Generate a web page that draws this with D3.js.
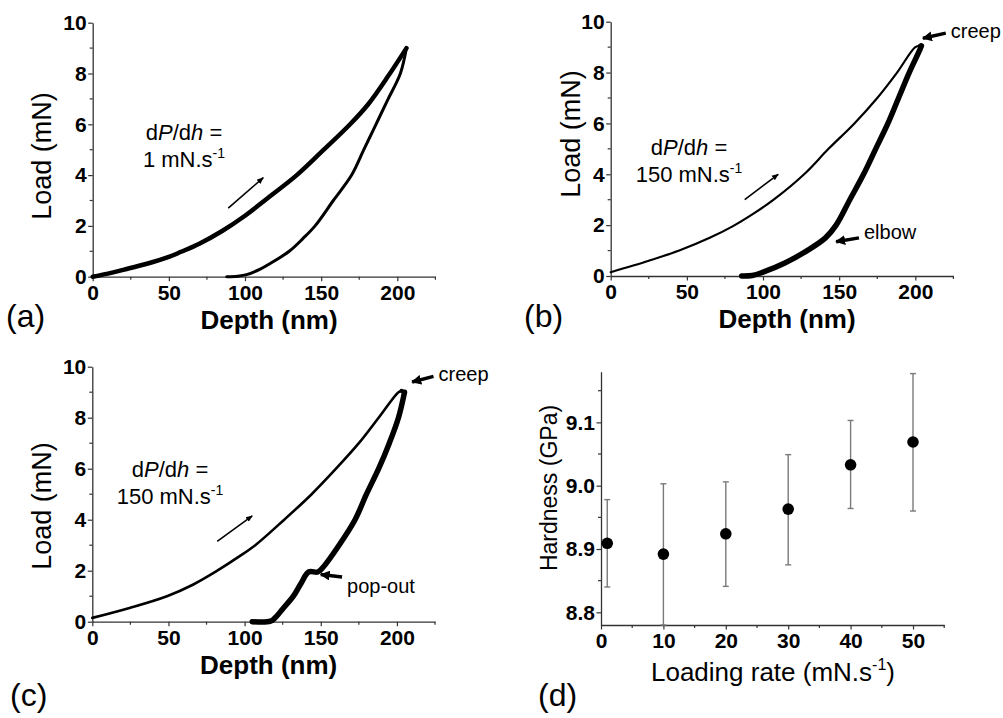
<!DOCTYPE html>
<html>
<head>
<meta charset="utf-8">
<script src="https://cdn.jsdelivr.net/npm/d3@7"></script>
<style>
  body { margin: 0; background: #fff; }
  text { font-family: "Liberation Sans", Arial, sans-serif; fill: #000; }
</style>
</head>
<body>
<div id="chart"></div>
<script>
// panel (a): 1 mN/s
const aLoadDepth   = [0, 10, 20, 35, 50, 58, 70, 85, 100, 115, 134, 150, 169, 181, 194, 206]
const aLoadForce   = [0, 0.12, 0.27, 0.5, 0.78, 0.98, 1.3, 1.8, 2.4, 3.1, 4.0, 4.9, 6.0, 6.8, 7.9, 9.0]
const aUnloadDepth = [88, 95, 101, 110, 116, 129, 138, 146, 158, 170, 178, 186, 194, 202, 206]
const aUnloadForce = [0, 0.02, 0.08, 0.3, 0.5, 1.0, 1.5, 2.0, 3.0, 4.0, 5.0, 6.0, 7.0, 8.0, 9.0]

// panel (b): 150 mN/s, elbow
const bLoadDepth   = [0, 25, 45, 65, 80, 95, 107, 127, 143, 160, 175, 188, 200, 203]
const bLoadForce   = [0.15, 0.6, 1.0, 1.5, 1.95, 2.5, 3.0, 4.0, 5.0, 6.0, 7.0, 8.0, 9.0, 9.05]
const bUnloadDepth = [86, 93, 100, 114, 129, 141, 148, 157, 166, 174, 182, 189, 196, 203, 204]
const bUnloadForce = [0, 0.02, 0.15, 0.5, 1.0, 1.5, 2.0, 3.0, 4.0, 5.0, 6.0, 7.0, 8.0, 8.9, 9.05]

// panel (c): 150 mN/s, pop-out
const cLoadDepth   = [0, 25, 49, 66, 82, 95, 107, 126, 144, 160, 175, 188, 201, 203]
const cLoadForce   = [0.15, 0.55, 1.0, 1.45, 2.0, 2.5, 3.0, 4.0, 5.0, 6.0, 7.0, 8.0, 9.0, 9.05]
const cUnloadDepth = [105, 117, 120, 125, 132, 137, 142, 148, 151, 162, 172.5, 180, 188, 195, 201, 205]
const cUnloadForce = [0, 0.02, 0.15, 0.5, 1.0, 1.5, 1.95, 1.95, 2.1, 3.0, 4.0, 5.0, 6.0, 7.0, 8.0, 9.0]

// panel (d): hardness vs loading rate
const rates    = [1, 10, 20, 30, 40, 50]
const hardness = [8.909, 8.892, 8.924, 8.963, 9.033, 9.069]
const errHigh  = [8.978, 9.003, 9.006, 9.049, 9.103, 9.177]
const errLow   = [8.840, 8.780, 8.841, 8.875, 8.964, 8.960]

const depthTicks = [0, 50, 100, 150, 200]
const loadTicks = [0, 2, 4, 6, 8, 10]
const rateTicks = [0, 10, 20, 30, 40, 50]
const hardTicks = [8.8, 8.9, 9.0, 9.1]

const width = 1003, height = 718
const axisColor = "#333"

const svg = d3.select("#chart").append("svg")
    .attr("width", width)
    .attr("height", height)

const arrowDefs = svg.append("defs")
arrowDefs.append("marker")
    .attr("id", "thin").attr("viewBox", "0 0 10 10")
    .attr("refX", 9).attr("refY", 5)
    .attr("markerWidth", 7).attr("markerHeight", 7)
    .attr("markerUnits", "userSpaceOnUse")
    .attr("orient", "auto")
  .append("path").attr("d", "M0,1 L10,5 L0,9 Z").attr("fill", "#000")
arrowDefs.append("marker")
    .attr("id", "thick").attr("viewBox", "0 0 10 10")
    .attr("refX", 9).attr("refY", 5)
    .attr("markerWidth", 10).attr("markerHeight", 10)
    .attr("markerUnits", "userSpaceOnUse")
    .attr("orient", "auto")
  .append("path").attr("d", "M0,0 L10,5 L0,10 Z").attr("fill", "#000")

function styleAxis(g) {
  g.select(".domain").attr("stroke", axisColor).attr("stroke-width", 1.3)
  g.selectAll(".tick line").attr("stroke", axisColor).attr("stroke-width", 1.2)
  g.selectAll(".tick text")
      .attr("font-size", 21).attr("font-weight", "bold")
      .attr("font-family", "Liberation Sans, Arial, sans-serif").attr("fill", "#000")
}

function minorTicks(g, scale, values, horizontal) {
  g.selectAll(".minor").data(values).enter().append("line")
      .attr("class", "minor")
      .attr("stroke", axisColor).attr("stroke-width", 1.2)
      .attr("x1", d => horizontal ? scale(d) : 0)
      .attr("x2", d => horizontal ? scale(d) : -3)
      .attr("y1", d => horizontal ? 0 : scale(d))
      .attr("y2", d => horizontal ? 3 : scale(d))
}

function depthPanel(cfg) {
  const x = d3.scaleLinear().domain([0, 225]).range(cfg.xr)
  const y = d3.scaleLinear().domain([0, 10]).range(cfg.yr)
  const g = svg.append("g")

  const xg = g.append("g")
      .attr("transform", "translate(0," + cfg.yr[0] + ")")
      .call(d3.axisBottom(x).tickValues(depthTicks).tickSize(4.5).tickPadding(4).tickSizeOuter(0))
  styleAxis(xg)
  minorTicks(xg, x, [25, 75, 125, 175, 225], true)

  const yg = g.append("g")
      .attr("transform", "translate(" + cfg.xr[0] + ",0)")
      .call(d3.axisLeft(y).tickValues(loadTicks).tickSize(4.5).tickPadding(1.5).tickSizeOuter(0))
  styleAxis(yg)
  minorTicks(yg, y, [1, 3, 5, 7, 9], false)

  const line = d3.line()
      .x(d => x(d[0]))
      .y(d => y(d[1]))
      .curve(d3.curveCatmullRom)

  g.append("path")
      .datum(d3.zip(cfg.loadDepth, cfg.loadForce))
      .attr("d", line)
      .attr("fill", "none").attr("stroke", "#000")
      .attr("stroke-width", cfg.loadWidth)
      .attr("stroke-linecap", "round").attr("stroke-linejoin", "round")

  g.append("path")
      .datum(d3.zip(cfg.unloadDepth, cfg.unloadForce))
      .attr("d", line)
      .attr("fill", "none").attr("stroke", "#000")
      .attr("stroke-width", cfg.unloadWidth)
      .attr("stroke-linecap", "round").attr("stroke-linejoin", "round")

  // creep plateau between loading end and unloading start
  if (cfg.creep) {
    g.append("path")
        .datum([[cfg.loadDepth[cfg.loadDepth.length - 1], cfg.loadForce[cfg.loadForce.length - 1]],
                [cfg.unloadDepth[cfg.unloadDepth.length - 1], cfg.unloadForce[cfg.unloadForce.length - 1]]])
        .attr("d", d3.line().x(d => x(d[0])).y(d => y(d[1])))
        .attr("fill", "none").attr("stroke", "#000").attr("stroke-width", 4)
        .attr("stroke-linecap", "round")
  }

  // axis titles
  g.append("text")
      .text("Load (mN)")
      .attr("text-anchor", "middle")
      .attr("font-size", 27)
      .attr("transform", "translate(" + cfg.loadTitle[0] + "," + cfg.loadTitle[1] + ")rotate(-90)")
      .attr("dy", "0.35em")

  g.append("text")
      .text("Depth (nm)")
      .attr("text-anchor", "middle")
      .attr("font-size", 26)
      .attr("font-weight", "bold")
      .attr("x", (cfg.xr[0] + cfg.xr[1]) / 2 + 5)
      .attr("y", cfg.yr[0] + 52)

  g.append("text")
      .text(cfg.label)
      .attr("font-size", 32)
      .attr("x", cfg.labelPos[0]).attr("y", cfg.labelPos[1])

  // rate annotation
  const note = g.append("text").attr("font-size", 22).attr("text-anchor", "middle")
  note.append("tspan").attr("x", cfg.notePos[0]).attr("y", cfg.notePos[1]).text("d")
  note.append("tspan").attr("font-style", "italic").text("P")
  note.append("tspan").text("/d")
  note.append("tspan").attr("font-style", "italic").text("h")
  note.append("tspan").text(" =")
  const note2 = g.append("text").attr("font-size", 22).attr("text-anchor", "middle")
  note2.append("tspan").attr("x", cfg.notePos[0]).attr("y", cfg.notePos[1] + 27).text(cfg.rate + " mN.s")
  note2.append("tspan").attr("font-size", 14).attr("dy", -9).text("-1")

  g.append("line")
      .attr("x1", x(cfg.arrow[0])).attr("y1", y(cfg.arrow[1]))
      .attr("x2", x(cfg.arrow[2])).attr("y2", y(cfg.arrow[3]))
      .attr("stroke", "#000").attr("stroke-width", 1.6)
      .attr("marker-end", "url(#thin)")

  cfg.callouts.forEach(c => {
    g.append("line")
        .attr("x1", x(c.from[0])).attr("y1", y(c.from[1]))
        .attr("x2", x(c.to[0])).attr("y2", y(c.to[1]))
        .attr("stroke", "#000").attr("stroke-width", 3.5)
        .attr("marker-end", "url(#thick)")
    g.append("text")
        .text(c.text)
        .attr("font-size", 20)
        .attr("x", x(c.from[0]) + 5).attr("y", y(c.from[1]) + c.dy)
  })
}

depthPanel({
  xr: [92.7, 435.4], yr: [276.7, 22.7],
  loadDepth: aLoadDepth, loadForce: aLoadForce,
  unloadDepth: aUnloadDepth, unloadForce: aUnloadForce,
  loadWidth: 4.5, unloadWidth: 3,
  label: "(a)", labelPos: [6, 327], loadTitle: [42, 156],
  notePos: [184, 140], rate: "1",
  arrow: [89, 2.7, 112, 3.9],
  callouts: []
})

depthPanel({
  xr: [610.7, 953.4], yr: [276, 21.7],
  loadDepth: bLoadDepth, loadForce: bLoadForce,
  unloadDepth: bUnloadDepth, unloadForce: bUnloadForce,
  loadWidth: 2.2, unloadWidth: 5.5,
  label: "(b)", labelPos: [524, 327], loadTitle: [571, 134],
  notePos: [689, 155], rate: "150",
  arrow: [88, 3.0, 110, 4.0], creep: true,
  callouts: [
    { from: [220, 9.55], to: [205, 9.35], text: "creep", dy: 5 },
    { from: [163, 1.5], to: [148, 1.35], text: "elbow", dy: 1 }
  ]
})

depthPanel({
  xr: [92.3, 435], yr: [621.7, 366.7],
  loadDepth: cLoadDepth, loadForce: cLoadForce,
  unloadDepth: cUnloadDepth, unloadForce: cUnloadForce,
  loadWidth: 2.6, unloadWidth: 5.5,
  label: "(c)", labelPos: [10, 706], loadTitle: [42, 506],
  notePos: [170, 477], rate: "150",
  arrow: [82, 3.15, 105, 4.15], creep: true,
  callouts: [
    { from: [224, 9.62], to: [210, 9.4], text: "creep", dy: 5 },
    { from: [164, 1.75], to: [150, 1.85], text: "pop-out", dy: 16 }
  ]
})

// panel (d)
const dx = d3.scaleLinear().domain([0, 55]).range([601, 944.2])
const dy = d3.scaleLinear().domain([8.78, 9.18]).range([625, 371.7])
const gd = svg.append("g")

const dxg = gd.append("g")
    .attr("transform", "translate(0,625)")
    .call(d3.axisBottom(dx).tickValues(rateTicks).tickSize(4.5).tickPadding(4).tickSizeOuter(0))
styleAxis(dxg)
minorTicks(dxg, dx, [5, 15, 25, 35, 45, 55], true)

const dyg = gd.append("g")
    .attr("transform", "translate(601,0)")
    .call(d3.axisLeft(dy).tickValues(hardTicks).tickFormat(d3.format(".1f")).tickSize(4.5).tickPadding(1.5).tickSizeOuter(0))
styleAxis(dyg)
minorTicks(dyg, dy, [8.85, 8.95, 9.05, 9.15], false)

const points = d3.zip(rates, hardness, errHigh, errLow)

gd.selectAll(".err").data(points).enter().append("line")
    .attr("class", "err")
    .attr("x1", d => dx(d[0])).attr("x2", d => dx(d[0]))
    .attr("y1", d => dy(d[2])).attr("y2", d => dy(d[3]))
    .attr("stroke", "#7a7a7a").attr("stroke-width", 1.4)

gd.selectAll(".capHi").data(points).enter().append("line")
    .attr("x1", d => dx(d[0]) - 3).attr("x2", d => dx(d[0]) + 3)
    .attr("y1", d => dy(d[2])).attr("y2", d => dy(d[2]))
    .attr("stroke", "#7a7a7a").attr("stroke-width", 1.4)

gd.selectAll(".capLo").data(points).enter().append("line")
    .attr("x1", d => dx(d[0]) - 3).attr("x2", d => dx(d[0]) + 3)
    .attr("y1", d => dy(d[3])).attr("y2", d => dy(d[3]))
    .attr("stroke", "#7a7a7a").attr("stroke-width", 1.4)

gd.selectAll("circle").data(points).enter().append("circle")
    .attr("cx", d => dx(d[0])).attr("cy", d => dy(d[1]))
    .attr("r", 5.8).attr("fill", "#000")

gd.append("text")
    .text("Hardness (GPa)")
    .attr("text-anchor", "middle")
    .attr("font-size", 23)
    .attr("transform", "translate(549,488)rotate(-90)")
    .attr("dy", "0.35em")

const rateTitle = gd.append("text")
    .attr("text-anchor", "middle")
    .attr("font-size", 26)
    .attr("x", 773).attr("y", 681)
rateTitle.append("tspan").text("Loading rate (mN.s")
rateTitle.append("tspan").attr("font-size", 16).attr("dy", -11).text("-1")
rateTitle.append("tspan").attr("dy", 11).text(")")

gd.append("text")
    .text("(d)")
    .attr("font-size", 32)
    .attr("x", 538).attr("y", 706)
</script>
</body>
</html>
